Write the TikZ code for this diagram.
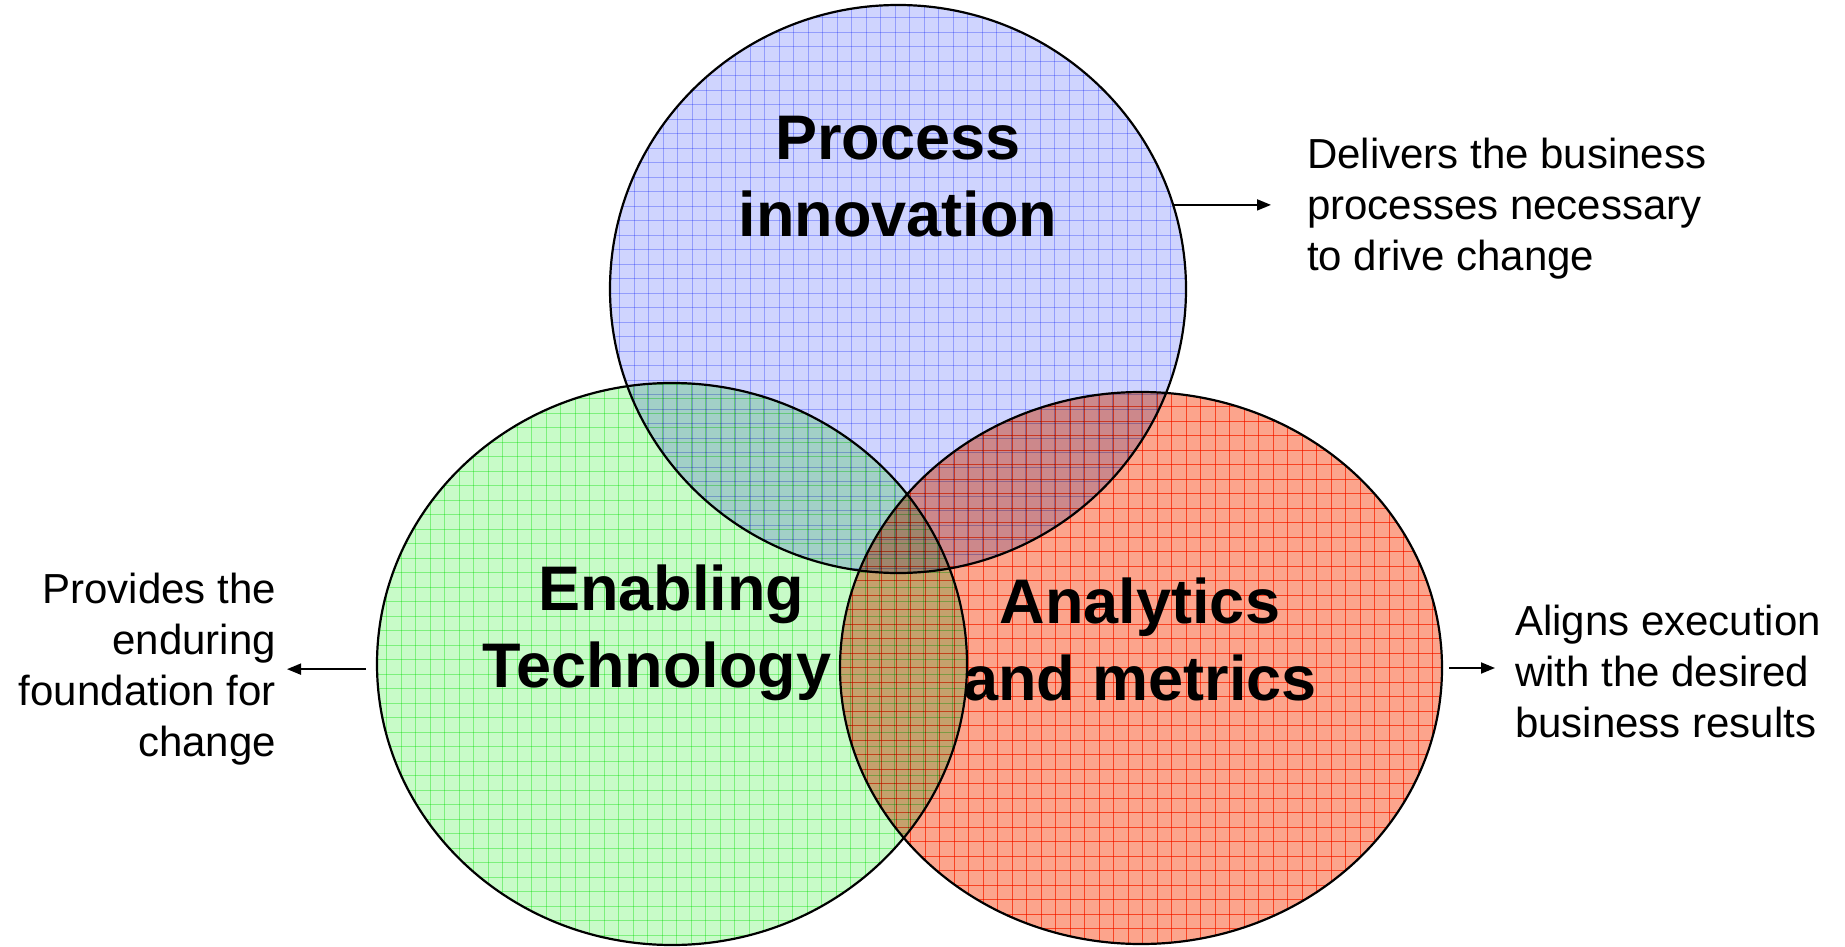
\documentclass[tikz,border=0pt]{standalone}
\usepackage{fontspec}
\setmainfont{Liberation Sans}
\usetikzlibrary{shapes.geometric,arrows.meta}
\definecolor{bluefill}{RGB}{207,212,254}
\definecolor{bluegrid}{RGB}{182,190,252}
\definecolor{greenfill}{RGB}{200,251,200}
\definecolor{greengrid}{RGB}{160,244,160}
\definecolor{redfill}{RGB}{252,164,140}
\definecolor{redgrid}{RGB}{250,105,65}
\tikzset{
  venn/.style={ellipse, inner sep=0pt, outer sep=0pt, draw=none},
  rim/.style={draw=black, line width=2.2pt},
  gridline/.style={line width=0.5pt},
  bigtxt/.style={inner sep=0pt, align=center, font=\bfseries\fontsize{63}{77}\selectfont},
  smalltxt/.style={inner sep=0pt, font=\fontsize{42}{51}\selectfont},
  arr/.style={line width=1.8pt, -{Triangle[length=14pt,width=11pt]}}
}
\begin{document}
\begin{tikzpicture}[x=1pt,y=-1pt]
\useasboundingbox (0,0) rectangle (1845,947);
% circle nodes
\node[venn, minimum width=576pt, minimum height=568pt] (proc) at (898,289) {};
\node[venn, minimum width=590pt, minimum height=562pt] (tech) at (672,664) {};
\node[venn, minimum width=602pt, minimum height=552pt] (anal) at (1141,668) {};
% fills with grid, multiplied
\begin{scope}[blend mode=multiply]
  \begin{scope}
    \clip (proc.center) ellipse [x radius=288, y radius=284];
    \fill[bluefill] (600,0) rectangle (1200,580);
    \foreach \i in {0,...,41} {\draw[gridline, bluegrid] (605+14.5*\i,0) -- (605+14.5*\i,580);}
    \foreach \j in {0,...,40} {\draw[gridline, bluegrid] (600,3+14.5*\j) -- (1200,3+14.5*\j);}
  \end{scope}
  \begin{scope}
    \clip (tech.center) ellipse [x radius=295, y radius=281];
    \fill[greenfill] (370,380) rectangle (975,947);
    \foreach \i in {0,...,42} {\draw[gridline, greengrid] (372+14.5*\i,380) -- (372+14.5*\i,947);}
    \foreach \j in {0,...,39} {\draw[gridline, greengrid] (370,384+14.5*\j) -- (975,384+14.5*\j);}
  \end{scope}
  \begin{scope}
    \clip (anal.center) ellipse [x radius=301, y radius=276];
    \fill[redfill] (835,388) rectangle (1450,947);
    \foreach \i in {0,...,42} {\draw[gridline, redgrid] (838+14.5*\i,388) -- (838+14.5*\i,947);}
    \foreach \j in {0,...,38} {\draw[gridline, redgrid] (835,392+14.5*\j) -- (1450,392+14.5*\j);}
  \end{scope}
\end{scope}
% outlines
\draw[rim] (proc.center) ellipse [x radius=288, y radius=284];
\draw[rim] (tech.center) ellipse [x radius=295, y radius=281];
\draw[rim] (anal.center) ellipse [x radius=301, y radius=276];
% titles
\node[bigtxt] (ptitle) at (898,177) {Process\\innovation};
\node[bigtxt] (ttitle) at (657,633) {\hspace*{28pt}Enabling\\Technology};
\node[bigtxt] (atitle) at (1140,639) {Analytics\\and metrics};
% side texts
\node[smalltxt, anchor=west, align=left] (pnote) at (1307,209) {Delivers the business\\processes necessary\\to drive change};
\node[smalltxt, anchor=east, align=right] (tnote) at (276,669.5) {Provides the\\enduring\\foundation for\\change};
\node[smalltxt, anchor=west, align=left] (anote) at (1515,671) {Aligns execution\\with the desired\\business results};
% arrows
\coordinate (pend) at (1271,0);
\coordinate (tend) at (287,0);
\coordinate (aend) at (1495,0);
\draw[arr] (proc.17) -- (proc.17 -| pend);
\draw[arr, shorten <=11pt] (tech.181) -- (tech.181 -| tend);
\draw[arr, shorten <=7pt] (anal.east) -- (anal.east -| aend);
\end{tikzpicture}
\end{document}
